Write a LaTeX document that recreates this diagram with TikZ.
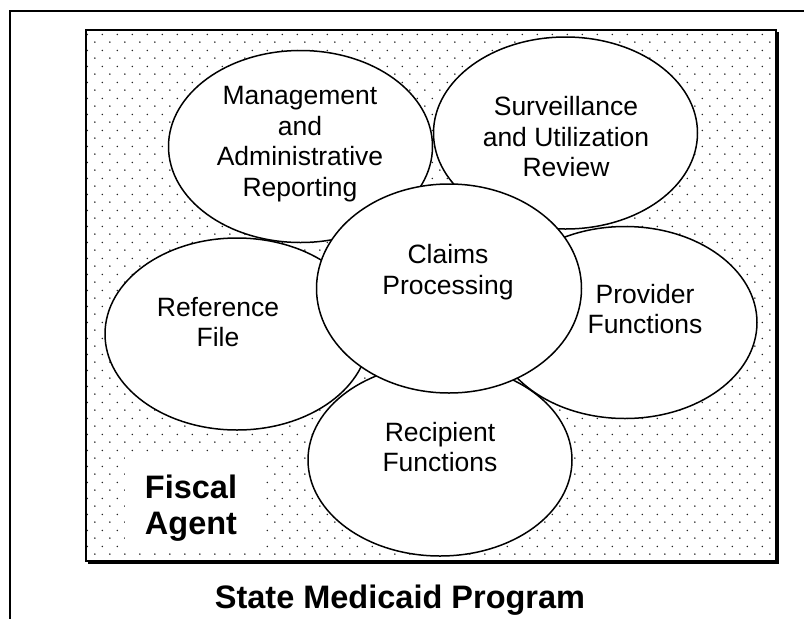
\documentclass[tikz,border=0pt]{standalone}
\usepackage{fontspec}
\setmainfont{Liberation Sans}
\usetikzlibrary{shapes.geometric,patterns}
\pgfdeclarepatternformonly{fiscaldots}{\pgfpointorigin}{\pgfpoint{15.4pt}{15.6pt}}{\pgfpoint{15.4pt}{15.6pt}}{%
\pgfpathcircle{\pgfpoint{3pt}{3pt}}{0.85pt}%
\pgfpathcircle{\pgfpoint{10.7pt}{10.8pt}}{0.85pt}%
\pgfusepath{fill}}
\tikzset{
bubble/.style={ellipse, draw, fill=white, line width=1.5pt, minimum width=264pt, minimum height=192pt, inner sep=0pt},
lbl/.style={font=\fontsize{26.5}{30.5}\selectfont, align=center, inner sep=0pt},
bigtxt/.style={font=\fontsize{32.5}{36}\selectfont\bfseries, align=center, inner sep=0pt}
}
\begin{document}
\begin{tikzpicture}[x=1pt,y=-1pt]
\useasboundingbox (0,0) rectangle (804,619);
\draw[line width=2pt] (10,619) -- (10,11) -- (804,11);
\fill[pattern=fiscaldots, pattern color=black!85] (86,30) rectangle (776,561);
\draw[line width=1.2pt] (86,30) rectangle (776,561);
\draw[line width=1.2pt] (88,563) -- (778,563) -- (778,32);
\fill[white] (125,452) rectangle (262,552);
\node[bigtxt] (agent) at (191,508) {Fiscal\\Agent};
\node[bubble] (mgmt) at (300.5,146.5) {};
\node[bubble] (surv) at (565.5,133) {};
\node[bubble] (ref) at (237,334) {};
\node[bubble] (prov) at (625,322.5) {};
\node[bubble] (recip) at (440,460) {};
\node[bubble, minimum width=265pt, minimum height=209pt] (claims) at (449,288.5) {};
\node[lbl] (mgmttext) at (300,144) {Management\\and\\Administrative\\Reporting};
\node[lbl] (survtext) at (566,137) {Surveillance\\and Utilization\\Review};
\node[lbl] (claimstext) at (448,272) {Claims\\Processing};
\node[lbl] (reftext) at (218,322) {Reference\\File};
\node[lbl] (provtext) at (645,309) {Provider\\Functions};
\node[lbl] (reciptext) at (440,447) {Recipient\\Functions};
\node[bigtxt, anchor=base] (title) at (400,608) {State Medicaid Program};
\end{tikzpicture}
\end{document}
